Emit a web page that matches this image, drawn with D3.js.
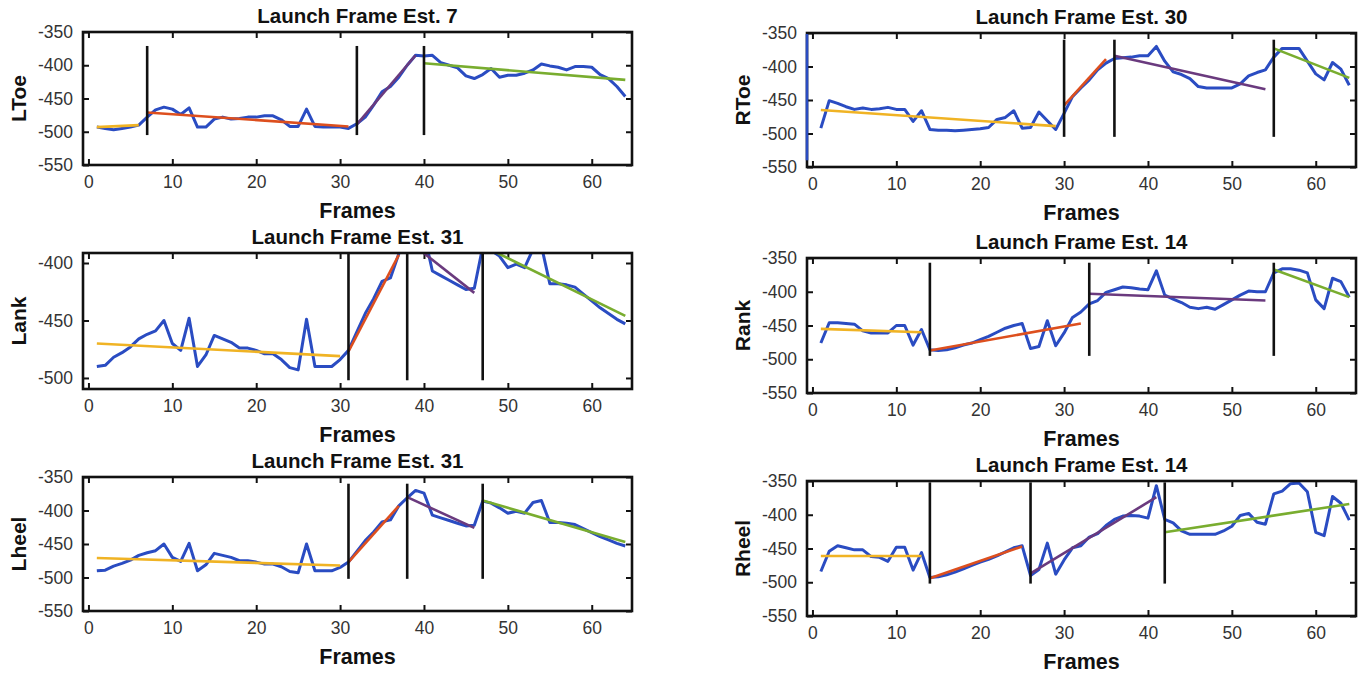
<!DOCTYPE html>
<meta charset="utf-8">
<style>
body { margin: 0; background: #fff; }
svg { display: block; font-family: "Liberation Sans", Arial, sans-serif; }
</style>
<body>
<div id="chart"></div>
<script src="https://cdn.jsdelivr.net/npm/d3@7/dist/d3.min.js"></script>
<script>

// ---- data ----
var frames = d3.range(1, 65);
var xTicks = [0, 10, 20, 30, 40, 50, 60];
var yTicksFull = [-550, -500, -450, -400, -350];
var yTicksLank = [-500, -450, -400];

var lToe = [-493,-495,-497,-495,-493,-490,-478,-467,-463,-466,-474,-464,-493,-493,-481,-478,
  -481,-480,-478,-478,-476,-476,-482,-492,-492,-466,-492,-493,-493,-493,-495,-488,
  -478,-460,-440,-432,-418,-400,-385,-386,-385,-396,-400,-404,-416,-420,-414,-405,
  -418,-415,-415,-412,-407,-398,-401,-403,-407,-402,-402,-403,-414,-420,-432,-447];
var rToe = [-492,-451,-455,-460,-464,-462,-464,-463,-461,-464,-464,-482,-466,-494,-495,-495,
  -496,-495,-494,-493,-491,-479,-476,-466,-492,-491,-468,-481,-494,-470,-445,-432,
  -420,-405,-395,-388,-387,-386,-384,-384,-370,-392,-408,-412,-418,-430,-432,-432,
  -432,-432,-426,-414,-409,-405,-386,-373,-373,-373,-392,-411,-420,-394,-404,-428];
var lAnk = [-490,-489,-482,-478,-473,-466,-462,-459,-450,-470,-476,-448,-490,-480,-463,-466,
  -469,-474,-474,-476,-479,-479,-484,-491,-493,-449,-490,-490,-490,-484,-476,-460,
  -444,-431,-416,-413,-392,-380,-370,-374,-407,-411,-415,-419,-423,-422,-386,-389,
  -394,-404,-401,-404,-388,-385,-418,-418,-419,-421,-427,-433,-439,-444,-449,-453];
var rAnk = [-476,-446,-446,-447,-448,-458,-461,-461,-461,-450,-450,-479,-456,-486,-487,-486,
  -483,-479,-476,-471,-466,-460,-454,-450,-447,-484,-481,-443,-480,-461,-438,-430,
  -418,-413,-401,-397,-393,-394,-396,-397,-369,-405,-411,-416,-423,-425,-423,-426,
  -419,-412,-405,-399,-400,-400,-372,-366,-366,-368,-372,-412,-425,-380,-385,-408];
var lHeel = [-490,-489,-483,-479,-474,-467,-463,-460,-450,-470,-476,-449,-490,-481,-464,-467,
  -470,-475,-475,-477,-480,-480,-484,-491,-493,-450,-490,-490,-490,-485,-477,-461,
  -445,-432,-417,-414,-393,-381,-370,-374,-407,-411,-415,-419,-423,-422,-386,-389,
  -396,-404,-401,-404,-388,-385,-418,-418,-419,-421,-427,-433,-439,-444,-449,-453];
var rHeel = [-484,-454,-446,-449,-452,-452,-462,-463,-469,-448,-448,-482,-456,-493,-492,-489,
  -485,-480,-475,-470,-466,-461,-455,-449,-446,-490,-481,-442,-488,-467,-449,-446,
  -433,-428,-416,-407,-402,-401,-402,-405,-357,-407,-412,-424,-429,-429,-429,-429,
  -424,-417,-401,-398,-411,-414,-369,-365,-354,-353,-366,-426,-431,-373,-383,-408];

// launch frame estimates and segment boundaries (vertical markers)
var launchEst = [7, 30, 31, 14, 31, 14];
var lToeMarks = [7, 32, 40],  rToeMarks = [30, 36, 55];
var lAnkMarks = [31, 38, 47], rAnkMarks = [14, 33, 55];
var lHeelMarks = [31, 38, 47], rHeelMarks = [14, 26, 42];
// vertical extent of the markers [low, high]
var lToeMarkSpan = [-505, -371], rToeMarkSpan = [-505, -360];
var lAnkMarkSpan = [-502, -360], rAnkMarkSpan = [-495, -357];
var lHeelMarkSpan = [-502, -360], rHeelMarkSpan = [-502, -352];

// fitted segments: [startFrame, startValue, endFrame, endValue]
var lToeFits = [[1,-493,6,-490],[7,-471,31,-492],[32,-489,39,-385],[40,-397,64,-422]];
var rToeFits = [[1,-465,29,-489],[30,-458,35,-389],[36,-384,54,-434],[55,-373,64,-417]];
var lAnkFits = [[1,-470,30,-481],[31,-477,37,-393],[38,-380,46,-426],[47,-385,64,-446]];
var rAnkFits = [[1,-455,13,-460],[14,-487,32,-447],[33,-403,54,-413],[55,-367,64,-408]];
var lHeelFits = [[1,-471,30,-482],[31,-477,37,-393],[38,-380,46,-426],[47,-385,64,-447]];
var rHeelFits = [[1,-461,13,-461],[14,-494,25,-447],[26,-487,41,-374],[42,-426,64,-384]];

// ---- layout / style ----
var W = 1361, H = 673;
var fitColors = ['#f0b324', '#dd4f1e', '#6a3a7e', '#79ad2f'];
var blue = '#2a4cc2';
var xDomain = [-0.65, 64.8];

var panels = [
  {label: 'LToe', values: lToe, marks: lToeMarks, span: lToeMarkSpan, fits: lToeFits, yDomain: [-550, -350], yTicks: yTicksFull,
   box: {x0: 83, x1: 632, y0: 32, y1: 165}},
  {label: 'RToe', values: rToe, marks: rToeMarks, span: rToeMarkSpan, fits: rToeFits, yDomain: [-550, -350], yTicks: yTicksFull,
   box: {x0: 807, x1: 1356, y0: 33, y1: 167}, leftSpine: blue},
  {label: 'Lank', values: lAnk, marks: lAnkMarks, span: lAnkMarkSpan, fits: lAnkFits, yDomain: [-509.6, -391.3], yTicks: yTicksLank,
   box: {x0: 83, x1: 632, y0: 253, y1: 389}},
  {label: 'Rank', values: rAnk, marks: rAnkMarks, span: rAnkMarkSpan, fits: rAnkFits, yDomain: [-550, -350], yTicks: yTicksFull,
   box: {x0: 807, x1: 1356, y0: 258, y1: 393}},
  {label: 'Lheel', values: lHeel, marks: lHeelMarks, span: lHeelMarkSpan, fits: lHeelFits, yDomain: [-550, -350], yTicks: yTicksFull,
   box: {x0: 83, x1: 632, y0: 477, y1: 611}},
  {label: 'Rheel', values: rHeel, marks: rHeelMarks, span: rHeelMarkSpan, fits: rHeelFits, yDomain: [-550, -350], yTicks: yTicksFull,
   box: {x0: 807, x1: 1356, y0: 481, y1: 616}}
];

// plain hyphen minus, like the original figure
function plain(d) { return String(d); }

var svg = d3.select('#chart').append('svg')
  .attr('width', W).attr('height', H);

panels.forEach(function(p, i) {
  var b = p.box;
  var x = d3.scaleLinear().domain(xDomain).range([b.x0, b.x1]);
  var y = d3.scaleLinear().domain(p.yDomain).range([b.y1, b.y0]);
  var g = svg.append('g');

  g.append('clipPath').attr('id', 'clip' + i)
    .append('rect')
    .attr('x', b.x0).attr('y', b.y0)
    .attr('width', b.x1 - b.x0).attr('height', b.y1 - b.y0);

  // axes (ticks pointing inward, on all four sides)
  var bottom = g.append('g').attr('transform', 'translate(0,' + b.y1 + ')')
    .call(d3.axisBottom(x).tickValues(xTicks).tickSize(-6).tickPadding(11).tickFormat(plain));
  var top = g.append('g').attr('transform', 'translate(0,' + b.y0 + ')')
    .call(d3.axisTop(x).tickValues(xTicks).tickSize(-6).tickFormat(''));
  var left = g.append('g').attr('transform', 'translate(' + b.x0 + ',0)')
    .call(d3.axisLeft(y).tickValues(p.yTicks).tickSize(-6).tickPadding(10).tickFormat(plain));
  var right = g.append('g').attr('transform', 'translate(' + b.x1 + ',0)')
    .call(d3.axisRight(y).tickValues(p.yTicks).tickSize(-6).tickFormat(''));

  [bottom, top, left, right].forEach(function(a) {
    a.select('.domain').remove();
    a.selectAll('.tick line').attr('stroke', '#111').attr('stroke-width', 2);
    a.selectAll('.tick text').attr('fill', '#333').style('font-size', '17.5px')
      .style('font-family', '"Liberation Sans", Arial, sans-serif');
  });

  var plot = g.append('g').attr('clip-path', 'url(#clip' + i + ')');

  var line = d3.line()
    .x(function(d, k) { return x(frames[k]); })
    .y(function(d) { return y(d); });

  plot.append('path')
    .datum(p.values)
    .attr('fill', 'none')
    .attr('stroke', blue)
    .attr('stroke-width', 3)
    .attr('stroke-linejoin', 'round')
    .attr('d', line);

  plot.selectAll('.fit')
    .data(p.fits)
    .enter().append('line')
    .attr('class', 'fit')
    .attr('x1', function(d) { return x(d[0]); })
    .attr('y1', function(d) { return y(d[1]); })
    .attr('x2', function(d) { return x(d[2]); })
    .attr('y2', function(d) { return y(d[3]); })
    .attr('stroke', function(d, k) { return fitColors[k]; })
    .attr('stroke-width', 2.6);

  plot.selectAll('.mark')
    .data(p.marks)
    .enter().append('line')
    .attr('class', 'mark')
    .attr('x1', function(d) { return x(d); })
    .attr('x2', function(d) { return x(d); })
    .attr('y1', y(p.span[0]))
    .attr('y2', y(p.span[1]))
    .attr('stroke', '#111')
    .attr('stroke-width', 2.6);

  // axes box
  g.append('rect')
    .attr('x', b.x0).attr('y', b.y0)
    .attr('width', b.x1 - b.x0).attr('height', b.y1 - b.y0)
    .attr('fill', 'none')
    .attr('stroke', '#111')
    .attr('stroke-width', 2.6);

  if (p.leftSpine) {
    g.append('line')
      .attr('x1', b.x0).attr('x2', b.x0)
      .attr('y1', b.y0 + 1).attr('y2', y(-540))
      .attr('stroke', p.leftSpine)
      .attr('stroke-width', 2.6);
  }

  // title and axis labels
  g.append('text')
    .attr('x', (b.x0 + b.x1) / 2)
    .attr('y', b.y0 - 9)
    .attr('text-anchor', 'middle')
    .style('font-size', '20.5px')
    .style('font-weight', 'bold')
    .attr('fill', '#111')
    .text('Launch Frame Est. ' + launchEst[i]);

  g.append('text')
    .attr('x', (b.x0 + b.x1) / 2)
    .attr('y', b.y1 + 53)
    .attr('text-anchor', 'middle')
    .style('font-size', '21.5px')
    .style('font-weight', 'bold')
    .attr('fill', '#111')
    .text('Frames');

  g.append('text')
    .attr('transform', 'translate(' + (b.x0 - 57) + ',' + ((b.y0 + b.y1) / 2) + ') rotate(-90)')
    .attr('text-anchor', 'middle')
    .style('font-size', '21px')
    .style('font-weight', 'bold')
    .attr('fill', '#111')
    .text(p.label);
});

</script>
